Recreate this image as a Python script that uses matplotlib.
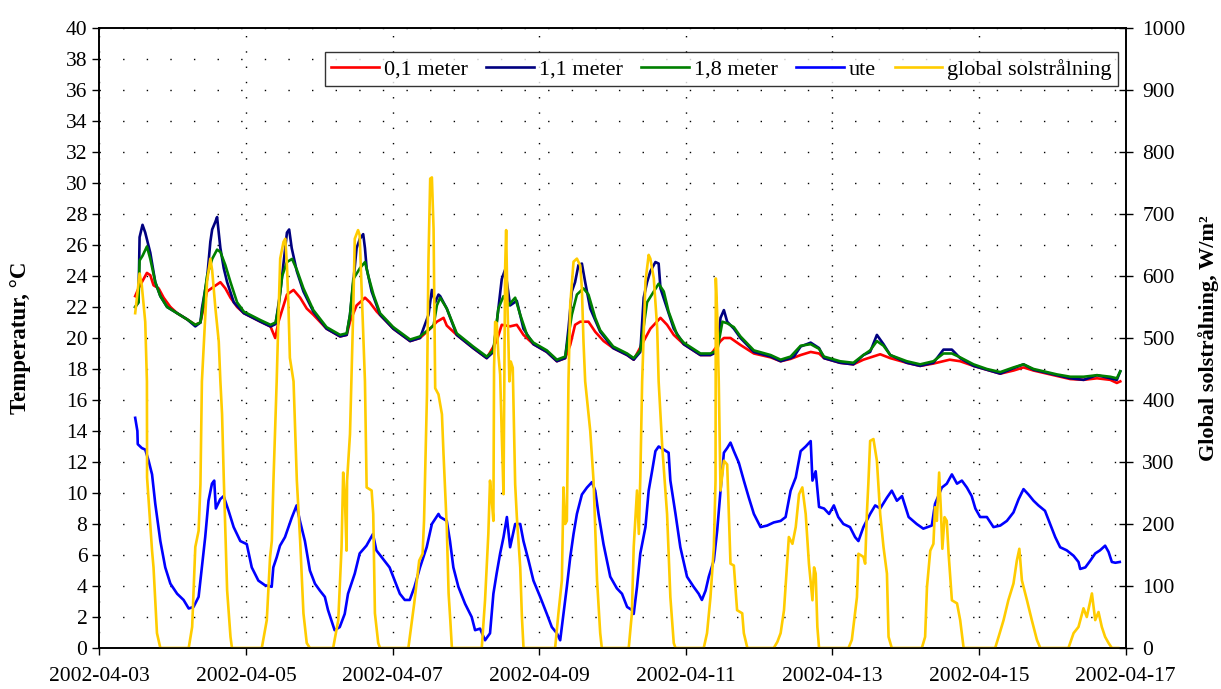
import matplotlib
matplotlib.use('Agg')
from matplotlib import pyplot as plt
import matplotlib.dates as mdates
import pandas as pd

# time in days after 2002-04-03 00:00
t_01 = [0.49, 0.535, 0.65, 0.696, 0.74, 0.81, 0.878, 0.97, 1.062, 1.199, 1.31, 1.38, 1.42, 1.47, 1.56, 1.652,
        1.72, 1.79, 1.88, 1.972, 2.20, 2.336, 2.40, 2.445, 2.56, 2.65, 2.74, 2.83, 2.92, 3.10, 3.285, 3.375,
        3.42, 3.51, 3.625, 3.69, 3.785, 3.92, 4.01, 4.24, 4.375, 4.514, 4.605, 4.696, 4.74, 4.876, 5.10, 5.285,
        5.42, 5.49, 5.604, 5.695, 5.786, 5.922, 6.105, 6.242, 6.355, 6.424, 6.49, 6.56, 6.673, 6.765, 6.88,
        7.01, 7.20, 7.29, 7.426, 7.517, 7.655, 7.745, 7.836, 7.972, 8.20, 8.337, 8.474, 8.52, 8.61, 8.746,
        8.929, 9.157, 9.294, 9.43, 9.567, 9.704, 9.818, 9.886, 10.104, 10.286, 10.423, 10.652, 10.789, 11.015,
        11.197, 11.378, 11.6, 11.743, 11.925, 12.107, 12.29, 12.47, 12.607, 12.744, 12.927, 13.063, 13.245,
        13.427, 13.609, 13.79, 13.88, 13.927]
v_01 = [22.7, 23.2, 24.2, 24.05, 23.4, 23.2, 22.6, 22.0, 21.6, 21.2, 20.85, 21.0, 21.9, 23.0, 23.3, 23.6,
        23.2, 22.6, 22.0, 21.6, 21.05, 20.74, 20.0, 21.05, 22.8, 23.1, 22.6, 21.9, 21.5, 20.6, 20.1, 20.2,
        21.05, 22.1, 22.6, 22.3, 21.7, 21.05, 20.6, 19.8, 20.0, 20.6, 21.05, 21.3, 20.8, 20.2, 19.35, 18.7,
        19.8, 20.85, 20.75, 20.85, 20.2, 19.6, 19.1, 18.5, 18.7, 19.55, 20.85, 21.05, 21.05, 20.4, 19.8,
        19.35, 18.9, 18.6, 19.8, 20.6, 21.3, 20.85, 20.2, 19.6, 18.9, 18.9, 19.8, 20.0, 20.0, 19.55,
        19.0, 18.75, 18.5, 18.65, 18.9, 19.1, 19.0, 18.7, 18.4, 18.3, 18.6, 18.95, 18.7, 18.4,
        18.2, 18.35, 18.6, 18.5, 18.2, 17.95, 17.7, 17.9, 18.1, 17.9, 17.7, 17.55, 17.35,
        17.3, 17.4, 17.3, 17.1, 17.2]

t_11 = [0.49, 0.535, 0.55, 0.59, 0.627, 0.696, 0.764, 0.833, 0.925, 1.062, 1.199, 1.31, 1.38, 1.40, 1.47,
        1.515, 1.54, 1.584, 1.607, 1.652, 1.698, 1.744, 1.835, 1.972, 2.20, 2.336, 2.405, 2.47, 2.515, 2.56,
        2.59, 2.625, 2.695, 2.785, 2.92, 3.10, 3.285, 3.375, 3.42, 3.465, 3.51, 3.555, 3.60, 3.624, 3.647,
        3.715, 3.83, 4.01, 4.24, 4.375, 4.491, 4.537, 4.582, 4.627, 4.65, 4.74, 4.876, 5.10, 5.285, 5.376,
        5.444, 5.49, 5.535, 5.56, 5.604, 5.695, 5.786, 5.922, 6.105, 6.242, 6.355, 6.40, 6.446, 6.49, 6.536,
        6.583, 6.628, 6.697, 6.833, 7.01, 7.20, 7.29, 7.38, 7.426, 7.472, 7.517, 7.586, 7.63, 7.655, 7.745,
        7.836, 7.972, 8.20, 8.337, 8.429, 8.474, 8.52, 8.565, 8.656, 8.746, 8.929, 9.157, 9.294, 9.43,
        9.475, 9.567, 9.704, 9.818, 9.886, 10.104, 10.286, 10.423, 10.515, 10.607, 10.697, 10.789, 11.015,
        11.197, 11.378, 11.515, 11.63, 11.743, 11.925, 12.107, 12.29, 12.47, 12.607, 12.744, 12.927,
        13.063, 13.245, 13.427, 13.609, 13.79, 13.88, 13.927]
v_11 = [22.0, 22.3, 26.5, 27.3, 26.8, 25.5, 23.6, 22.7, 22.0, 21.6, 21.2, 20.75, 21.0, 21.9, 23.8,
        26.2, 27.0, 27.5, 27.8, 25.8, 24.5, 23.6, 22.3, 21.6, 21.05, 20.74, 20.9, 23.0, 24.9, 26.8,
        27.0, 25.8, 24.3, 23.0, 21.7, 20.6, 20.1, 20.2, 21.5, 23.6, 25.8, 26.4, 26.7, 25.8, 24.5,
        23.0, 21.5, 20.6, 19.8, 20.0, 21.5, 23.1, 22.3, 22.8, 22.7, 21.9, 20.2, 19.35, 18.7, 19.1,
        21.9, 23.8, 24.4, 23.6, 22.1, 22.4, 20.6, 19.6, 19.1, 18.5, 18.7, 20.6, 23.0, 23.6, 24.7,
        24.8, 23.6, 21.9, 20.4, 19.35, 18.9, 18.6, 19.1, 22.6, 23.6, 24.3, 24.9, 24.8, 23.2, 21.9,
        20.6, 19.6, 18.9, 18.9, 19.1, 21.3, 21.8, 21.05, 20.6, 20.0, 19.1, 18.8, 18.5, 18.7,
        18.8, 19.45, 19.7, 19.35, 18.7, 18.4, 18.3, 18.9, 19.1, 20.2, 19.6, 18.9, 18.4,
        18.2, 18.4, 19.25, 19.25, 18.7, 18.2, 17.95, 17.7, 18.05, 18.3, 17.95, 17.75,
        17.6, 17.4, 17.3, 17.6, 17.4, 17.3, 17.85]

t_18 = [0.49, 0.535, 0.55, 0.59, 0.65, 0.696, 0.764, 0.833, 0.925, 1.062, 1.199, 1.31, 1.38, 1.41, 1.47,
        1.54, 1.607, 1.652, 1.72, 1.79, 1.88, 1.972, 2.20, 2.336, 2.405, 2.445, 2.495, 2.56, 2.63, 2.695,
        2.785, 2.92, 3.10, 3.285, 3.375, 3.42, 3.465, 3.555, 3.625, 3.67, 3.74, 3.83, 4.01, 4.24, 4.375,
        4.56, 4.605, 4.65, 4.74, 4.876, 5.10, 5.285, 5.376, 5.444, 5.514, 5.58, 5.673, 5.742, 5.834, 5.922,
        6.105, 6.242, 6.355, 6.446, 6.515, 6.605, 6.673, 6.765, 6.833, 7.01, 7.20, 7.29, 7.38, 7.472, 7.564,
        7.63, 7.70, 7.766, 7.882, 7.972, 8.20, 8.337, 8.429, 8.50, 8.565, 8.656, 8.746, 8.929, 9.157,
        9.294, 9.43, 9.567, 9.704, 9.818, 9.886, 10.104, 10.286, 10.423, 10.515, 10.607, 10.697, 10.789,
        11.015, 11.197, 11.378, 11.515, 11.63, 11.743, 11.925, 12.107, 12.29, 12.47, 12.607, 12.744,
        12.927, 13.063, 13.245, 13.427, 13.609, 13.79, 13.88, 13.927]
v_18 = [22.0, 22.3, 25.0, 25.3, 25.9, 25.1, 23.6, 22.7, 22.0, 21.6, 21.2, 20.85, 21.0, 21.9, 24.0,
        25.1, 25.7, 25.55, 24.7, 23.6, 22.3, 21.7, 21.15, 20.85, 21.0, 22.0, 24.0, 24.9, 25.1, 24.4,
        23.2, 21.8, 20.7, 20.2, 20.3, 21.5, 23.8, 24.5, 24.9, 24.0, 22.8, 21.6, 20.7, 19.9, 20.1,
        20.8, 22.1, 22.6, 21.9, 20.3, 19.45, 18.8, 19.2, 21.9, 22.7, 22.1, 22.6, 21.5, 20.2, 19.7,
        19.2, 18.6, 18.8, 21.5, 22.8, 23.2, 22.8, 21.3, 20.5, 19.45, 19.0, 18.7, 19.2, 22.3, 23.0,
        23.5, 23.0, 21.7, 20.2, 19.7, 19.0, 19.0, 19.2, 21.05, 20.95, 20.7, 20.1, 19.2, 18.9,
        18.6, 18.8, 19.5, 19.6, 19.3, 18.8, 18.5, 18.4, 18.9, 19.2, 19.8, 19.5, 18.9,
        18.5, 18.3, 18.5, 19.0, 19.0, 18.75, 18.3, 18.0, 17.8, 18.1, 18.3, 18.0,
        17.8, 17.65, 17.5, 17.5, 17.6, 17.5, 17.4, 17.85]

t_ute = [0.49, 0.52, 0.525, 0.58, 0.627, 0.672, 0.72, 0.764, 0.833, 0.90, 0.97, 1.062, 1.15, 1.22, 1.286,
         1.355, 1.40, 1.445, 1.49, 1.537, 1.568, 1.59, 1.65, 1.696, 1.764, 1.833, 1.924, 2.012, 2.08, 2.17,
         2.26, 2.352, 2.374, 2.42, 2.465, 2.533, 2.625, 2.692, 2.737, 2.805, 2.873, 2.942, 3.01, 3.077, 3.12,
         3.21, 3.28, 3.348, 3.393, 3.485, 3.552, 3.644, 3.733, 3.78, 3.87, 3.96, 4.03, 4.10, 4.167, 4.235,
         4.30, 4.375, 4.466, 4.537, 4.627, 4.65, 4.74, 4.784, 4.83, 4.898, 4.99, 5.08, 5.126, 5.194, 5.262,
         5.33, 5.376, 5.42, 5.468, 5.514, 5.56, 5.604, 5.673, 5.742, 5.786, 5.855, 5.922, 6.014, 6.105,
         6.173, 6.242, 6.287, 6.332, 6.378, 6.424, 6.469, 6.515, 6.583, 6.652, 6.72, 6.765, 6.81, 6.878,
         6.97, 7.06, 7.13, 7.20, 7.265, 7.29, 7.335, 7.38, 7.45, 7.494, 7.54, 7.586, 7.63, 7.70, 7.766,
         7.79, 7.86, 7.926, 8.017, 8.107, 8.176, 8.22, 8.27, 8.314, 8.383, 8.429, 8.474, 8.52, 8.565, 8.61,
         8.656, 8.724, 8.792, 8.86, 8.929, 9.02, 9.11, 9.20, 9.294, 9.362, 9.43, 9.50, 9.567, 9.636, 9.704,
         9.728, 9.772, 9.818, 9.886, 9.955, 10.02, 10.08, 10.15, 10.24, 10.31, 10.355, 10.423, 10.515,
         10.584, 10.652, 10.744, 10.81, 10.88, 10.95, 11.04, 11.15, 11.24, 11.356, 11.40, 11.493, 11.56,
         11.63, 11.70, 11.766, 11.835, 11.90, 11.95, 12.015, 12.107, 12.197, 12.29, 12.38, 12.47, 12.54,
         12.607, 12.675, 12.744, 12.81, 12.90, 12.97, 13.04, 13.107, 13.197, 13.29, 13.357, 13.38, 13.45,
         13.52, 13.585, 13.65, 13.72, 13.767, 13.812, 13.86, 13.92]
v_ute = [14.85, 14.0, 13.15, 12.9, 12.8, 12.1, 11.2, 9.3, 6.9, 5.2, 4.15, 3.5, 3.1, 2.55, 2.65,
         3.3, 5.2, 7.15, 9.5, 10.6, 10.8, 9.0, 9.6, 9.8, 8.85, 7.8, 6.9, 6.7, 5.2, 4.35,
         4.05, 3.95, 5.2, 5.85, 6.6, 7.15, 8.4, 9.2, 8.2, 6.9, 5.0, 4.15, 3.7, 3.3, 2.45,
         1.15, 1.35, 2.2, 3.5, 4.8, 6.1, 6.6, 7.35, 6.3, 5.75, 5.2, 4.35, 3.5, 3.1, 3.1,
         3.95, 5.2, 6.5, 8.0, 8.65, 8.45, 8.2, 6.9, 5.2, 3.95, 2.85, 2.0, 1.15, 1.25, 0.5,
         0.95, 3.5, 4.8, 6.1, 7.15, 8.45, 6.5, 8.0, 8.0, 6.9, 5.65, 4.35, 3.3, 2.2,
         1.35, 0.95, 0.5, 2.2, 3.95, 5.85, 7.35, 8.65, 9.9, 10.35, 10.7, 10.15, 8.65, 6.7,
         4.6, 3.85, 3.5, 2.65, 2.45, 2.2, 3.95, 6.1, 7.8, 10.15, 11.4, 12.7, 13.0, 12.8, 12.6,
         10.8, 8.65, 6.5, 4.6, 3.95, 3.5, 3.1, 3.7, 4.6, 5.65, 7.6, 10.15, 12.6, 12.9, 13.25,
         12.7, 11.95, 10.8, 9.7, 8.65, 7.8, 7.9, 8.1, 8.2, 8.45, 10.15, 11.0, 12.7, 13.0, 13.35,
         10.8, 11.4, 9.1, 9.0, 8.65, 9.2, 8.45, 8.0, 7.8, 7.15, 6.9, 7.8, 8.65,
         9.2, 9.0, 9.7, 10.15, 9.5, 9.8, 8.45, 8.0, 7.7, 7.9, 9.3, 10.35, 10.6,
         11.2, 10.6, 10.8, 10.35, 9.8, 9.0, 8.45, 8.45, 7.8, 7.9, 8.2, 8.75, 9.6,
         10.25, 9.9, 9.5, 9.2, 8.85, 8.0, 7.15, 6.5, 6.3, 5.95, 5.55, 5.1, 5.2,
         5.65, 6.1, 6.3, 6.6, 6.2, 5.55, 5.5, 5.55]

t_sol = [0.49, 0.55, 0.58, 0.627, 0.65, 0.652, 0.72, 0.74, 0.787, 0.833,
         1.22, 1.267, 1.31, 1.355, 1.38, 1.40, 1.47, 1.515, 1.54, 1.584, 1.63, 1.652, 1.675, 1.698, 1.744,
         1.79, 1.81,
         2.217, 2.285, 2.33, 2.354, 2.376, 2.42, 2.445, 2.468, 2.513, 2.537, 2.56, 2.58, 2.60, 2.65, 2.695,
         2.74, 2.785, 2.83, 2.873,
         3.19, 3.26, 3.305, 3.327, 3.35, 3.373, 3.38, 3.42, 3.465, 3.485, 3.53, 3.552, 3.575, 3.60, 3.624,
         3.647, 3.715, 3.737, 3.76, 3.805, 3.83,
         4.216, 4.296, 4.364, 4.41, 4.43, 4.47, 4.49, 4.514, 4.537, 4.56, 4.582, 4.627, 4.674, 4.696, 4.74,
         4.765, 4.788, 4.81,
         5.217, 5.262, 5.307, 5.33, 5.354, 5.376, 5.385, 5.40, 5.422, 5.444, 5.468, 5.49, 5.514, 5.536, 5.55,
         5.567, 5.594, 5.613, 5.64, 5.673, 5.696, 5.742, 5.765, 5.787,
         6.218, 6.263, 6.31, 6.332, 6.355, 6.378, 6.40, 6.424, 6.469, 6.515, 6.56, 6.583, 6.605, 6.628,
         6.697, 6.742, 6.79, 6.833, 6.855,
         7.222, 7.265, 7.29, 7.335, 7.36, 7.38, 7.405, 7.45, 7.494, 7.517, 7.564, 7.61, 7.63, 7.68, 7.745,
         7.79, 7.836, 7.86,
         8.245, 8.29, 8.337, 8.383, 8.406, 8.41, 8.429, 8.45, 8.474, 8.52, 8.565, 8.61, 8.656, 8.70, 8.77,
         8.792, 8.84,
         9.20, 9.25, 9.294, 9.34, 9.406, 9.455, 9.50, 9.545, 9.59, 9.636, 9.68, 9.728, 9.75, 9.772, 9.795,
         9.818,
         10.22, 10.265, 10.335, 10.355, 10.423, 10.447, 10.47, 10.49, 10.515, 10.56, 10.607, 10.652, 10.697,
         10.744, 10.766, 10.81,
         11.22, 11.265, 11.29, 11.335, 11.378, 11.40, 11.425, 11.456, 11.48, 11.50, 11.53, 11.56, 11.585,
         11.63, 11.70, 11.743, 11.79,
         12.22, 12.267, 12.335, 12.40, 12.47, 12.516, 12.55, 12.585, 12.654, 12.72, 12.79, 12.836,
         13.22, 13.29, 13.357, 13.425, 13.47, 13.54, 13.585, 13.63, 13.675, 13.72, 13.767, 13.812, 13.90]
v_sol = [540, 604, 585, 526, 430, 275, 157, 130, 24, 0,
         0, 34, 163, 189, 264, 430, 591, 628, 609, 548, 494, 430, 377, 275, 93,
         18, 0,
         0, 45, 147, 173, 270, 430, 537, 628, 655, 660, 617, 553, 468, 430, 270,
         173, 56, 8, 0,
         0, 45, 163, 283, 243, 157, 270, 345, 548, 660, 674, 666, 591, 510, 430,
         259, 254, 216, 56, 8, 0,
         0, 72, 141, 152, 205, 409, 623, 757, 759, 676, 419, 409, 377, 312, 195,
         88, 45, 0,
         0, 77, 184, 270, 238, 205, 452, 526, 524, 473, 441, 345, 248, 612, 674,
         559, 430, 462, 452, 264, 211, 130, 50, 0,
         0, 56, 109, 259, 200, 205, 430, 553, 623, 628, 617, 580, 494, 430,
         350, 270, 109, 24, 0,
         0, 56, 163, 254, 184, 275, 430, 591, 634, 628, 596, 516, 430, 323, 216,
         82, 8, 0,
         0, 24, 82, 163, 270, 596, 537, 430, 254, 302, 296, 136, 133, 61, 56,
         24, 0,
         0, 10, 24, 61, 179, 168, 195, 248, 259, 216, 136, 77, 130, 120, 34,
         0,
         0, 13, 82, 152, 147, 136, 216, 264, 334, 337, 302, 216, 163,
         120, 18, 0,
         0, 18, 98, 157, 168, 227, 205, 283, 222, 160, 211, 205, 152,
         77, 72, 45, 0,
         0, 18, 45, 77, 104, 141, 160, 109, 77, 45, 13, 0,
         0, 24, 34, 64, 50, 88, 45, 58, 34, 18, 8, 0, 0]

start = pd.Timestamp('2002-04-03')


def to_time(days):
    return start + pd.to_timedelta(days, unit='D')


plt.rcParams['font.family'] = ['Liberation Serif', 'DejaVu Serif']

fig = plt.figure(figsize=(12.21, 6.89), dpi=100)
ax = fig.add_axes([0.0813, 0.0595, 0.8406, 0.8999])
ax2 = ax.twinx()

lw = 1.9
l1, = ax.plot(to_time(t_01), v_01, color='#FF0000', lw=lw, label='0,1 meter')
l2, = ax.plot(to_time(t_11), v_11, color='#000080', lw=lw, label='1,1 meter')
l3, = ax.plot(to_time(t_18), v_18, color='#008000', lw=lw, label='1,8 meter')
l4, = ax.plot(to_time(t_ute), v_ute, color='#0000FF', lw=lw, label='ute')
l5, = ax2.plot(to_time(t_sol), v_sol, color='#FFCC00', lw=lw, label='global solstrålning')

ax.set_xlim(pd.Timestamp('2002-04-03'), pd.Timestamp('2002-04-17'))
ax.set_ylim(0, 40)
ax2.set_ylim(0, 1000)
ax.set_yticks(range(0, 41, 2))
ax2.set_yticks(range(0, 1001, 100))
ax.xaxis.set_major_locator(mdates.DayLocator(interval=2))
ax.xaxis.set_major_formatter(mdates.DateFormatter('%Y-%m-%d'))

# dotted grid: horizontal rows sparser than vertical columns
ax.yaxis.grid(True, color='black', linestyle=(0, (1, 16)), linewidth=1.0)
ax.xaxis.grid(True, color='black', linestyle=(0, (1, 10)), linewidth=1.0)
ax.tick_params(axis='both', labelsize=15.5, direction='out', length=5, width=1)
ax.tick_params(axis='x', pad=9)
ax2.tick_params(axis='y', labelsize=15.5, direction='inout', length=10, width=1, pad=7)
for a in (ax, ax2):
    for s in a.spines.values():
        s.set_linewidth(1.2)

ax.set_ylabel('Temperatur, °C', fontsize=16.5, fontweight='bold', labelpad=25)
ax2.set_ylabel('Global solstrålning, W/m²', fontsize=16, fontweight='bold', labelpad=9)

leg = ax2.legend(handles=[l1, l2, l3, l4, l5], loc='upper right', bbox_to_anchor=(0.9925, 0.961),
                 ncol=5, fontsize=16, frameon=True, fancybox=False, edgecolor='black',
                 handlelength=2.15, handletextpad=0.2, columnspacing=0.85, borderpad=0.3,
                 borderaxespad=0)
leg.get_frame().set_linewidth(1.0)

fig.savefig('out.png', dpi=100)
